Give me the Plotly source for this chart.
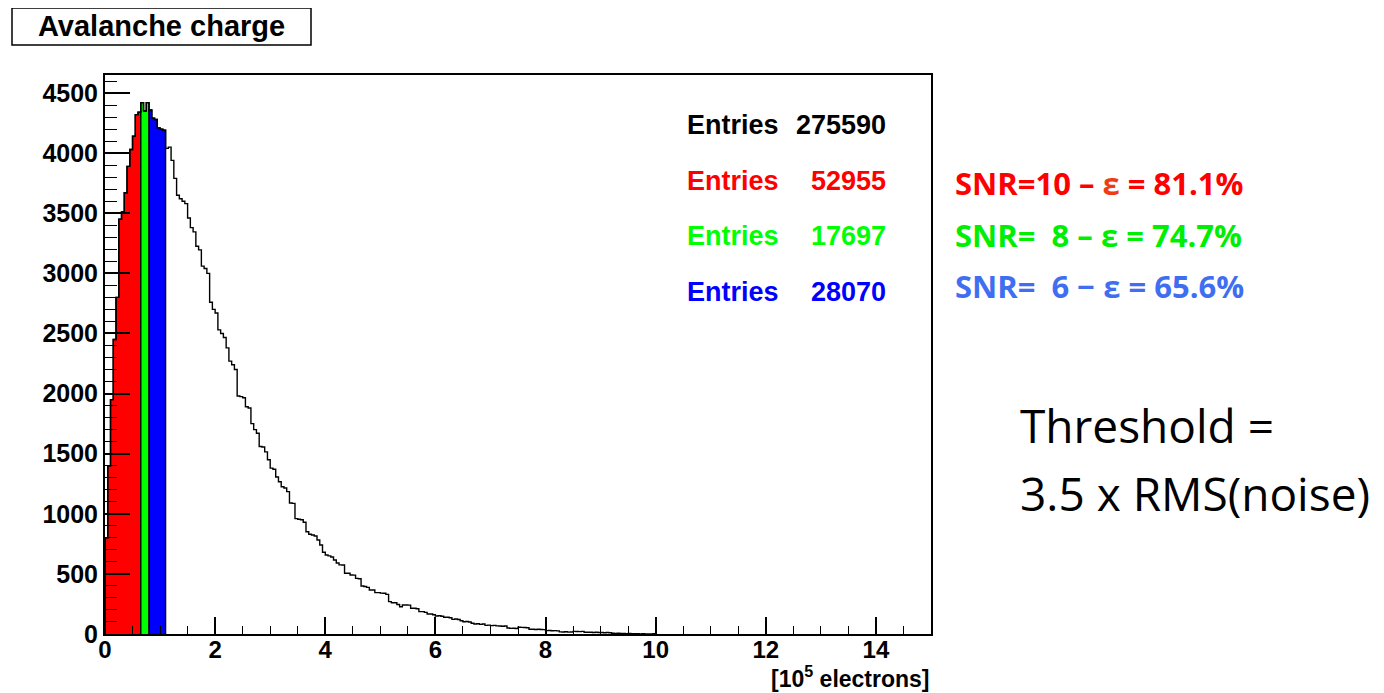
import plotly.graph_objects as go

# ---------------- data ----------------
bin_width = 0.05          # [10^5 electrons]
x_start = 0.0
counts = [
    800, 1400, 1950, 2450, 2800, 3450, 3510, 3670, 3890, 4030, 4140, 4320, 4340, 4420, 4350, 4420, 4360, 4290, 4280, 4210,
    4200, 4190, 4040, 4050, 3940, 3790, 3650, 3620, 3600, 3580, 3460, 3380, 3345, 3225, 3195, 3060, 3040, 3000, 2760, 2700,
    2670, 2530, 2500, 2467, 2380, 2270, 2240, 2200, 1980, 1975, 1965, 1890, 1880, 1750, 1700, 1670, 1560, 1555, 1515, 1450,
    1380, 1370, 1306, 1267, 1225, 1215, 1184, 1090, 1087, 960, 955, 950, 930, 850, 830, 824, 815, 782, 740, 680,
    657, 650, 640, 616, 591, 575, 574, 505, 505, 491, 490, 463, 460, 399, 395, 388, 366, 366, 344, 344,
    340, 339, 330, 269, 260, 260, 245, 227, 241, 241, 240, 214, 214, 210, 186, 186, 180, 166, 166, 160,
    150, 152, 148, 139, 139, 135, 122, 125, 120, 110, 102, 104, 100, 90, 83, 85, 80, 83, 72, 74,
    70, 72, 68, 67, 65, 67, 50, 47, 48, 46, 56, 55, 54, 52, 40, 39, 38, 40, 37, 36,
    28, 29, 27, 28, 26, 18, 17, 19, 16, 17, 22, 21, 20, 22, 15, 14, 14, 13, 14, 12,
    13, 11, 12, 10, 6, 5, 6, 4, 5, 3, 4, 3, 2, 3, 0, 2, 1, 0, 1, 2,
]
cut_edges = [0.0, 0.65, 0.80, 1.10]
cut_colors = ["#ff0000", "#00ff00", "#0000ff"]
entries_total = 275590
entries_cuts = [52955, 17697, 28070]
snr_values = ["10", "\u00a0\u00a08", "\u00a0\u00a06"]
snr_dashes = ["\u2013", "\u2013", "\u2212"]
efficiencies = ["81.1%", "74.7%", "65.6%"]
snr_colors = ["#ff0000", "#00ee00", "#3f6ff0"]
eps_colors = ["#f03c14", "#00ee00", "#3f6ff0"]

# ---------------- geometry helpers (page pixels) ----------------
OFF = 8                      # default body margin of the html page
W, H = 1384 - OFF, 693 - OFF
L, R, T, B = 105, 931, 75, 634   # plot-area edges in page pixels
X_RANGE = [0, 15]
Y_RANGE = [0, 4650]


def px(xp):
    return (xp - L) / (R - L)


def py(yp):
    return (B - yp) / (B - T)


n = len(counts)
edges = [x_start + i * bin_width for i in range(n + 1)]


def step_xy(lo, hi):
    xs = [edges[lo]] + edges[lo:hi + 1] + [edges[hi]]
    ys = [0] + counts[lo:hi] + [counts[hi - 1]] + [0]
    return xs, ys


fig = go.Figure()

# coloured (below-threshold) parts
for k in range(len(cut_colors)):
    lo = round(cut_edges[k] / bin_width)
    hi = round(cut_edges[k + 1] / bin_width)
    xs, ys = step_xy(lo, hi)
    fig.add_trace(go.Scatter(
        x=xs, y=ys, mode="lines", line_shape="hv",
        line=dict(color="black", width=1.4),
        fill="tozeroy", fillcolor=cut_colors[k],
        hoverinfo="skip", showlegend=False))

# full histogram outline
xs, ys = step_xy(0, n)
fig.add_trace(go.Scatter(
    x=xs, y=ys, mode="lines", line_shape="hv",
    line=dict(color="black", width=1.4),
    hoverinfo="skip", showlegend=False))

helv = "Liberation Sans"

fig.update_layout(
    width=W, height=H,
    margin=dict(l=L - OFF, r=W - (R - OFF), t=T - OFF, b=H - (B - OFF), pad=0),
    paper_bgcolor="white", plot_bgcolor="white",
    xaxis=dict(range=X_RANGE, showgrid=False, zeroline=False,
               showline=True, linecolor="black", linewidth=2, mirror=True,
               ticks="inside", ticklen=17, tickwidth=1.5, tickcolor="black",
               tick0=0, dtick=2, ticklabelstandoff=-7,
               minor=dict(ticks="inside", ticklen=8, tickwidth=1.2, tickcolor="black", dtick=0.5),
               tickfont=dict(family=helv, size=24, color="black", weight="bold")),
    yaxis=dict(range=Y_RANGE, showgrid=False, zeroline=False,
               showline=True, linecolor="black", linewidth=2, mirror=True,
               ticks="inside", ticklen=25, tickwidth=1.5, tickcolor="black",
               tick0=0, dtick=500,
               minor=dict(ticks="inside", ticklen=12, tickwidth=1.2, tickcolor="black", dtick=100),
               tickfont=dict(family=helv, size=25, color="black", weight="bold")),
)

ann = []
# x axis title
ann.append(dict(xref="paper", yref="paper", x=px(931), y=py(693), xanchor="right", yanchor="bottom",
                text="[10<sup>5</sup> electrons]", showarrow=False, borderpad=0,
                font=dict(family=helv, size=23, color="black", weight="bold")))
# title box
fig.add_shape(type="rect", xref="paper", yref="paper",
              x0=px(12), x1=px(311), y0=py(45), y1=py(8),
              line=dict(color="black", width=1.5), fillcolor="white")
ann.append(dict(xref="paper", yref="paper", x=px(161), y=py(26), xanchor="center", yanchor="middle",
                text="Avalanche charge", showarrow=False,
                font=dict(family=helv, size=29, color="black", weight="bold")))

# stats entries
rows_y = [125, 181, 236, 292]
row_cols = ["black"] + cut_colors
row_vals = [entries_total] + entries_cuts
for yv, c, v in zip(rows_y, row_cols, row_vals):
    ann.append(dict(xref="paper", yref="paper", x=px(685), y=py(yv), xanchor="left", yanchor="middle",
                    text="Entries", showarrow=False,
                    font=dict(family=helv, size=27, color=c, weight="bold")))
    ann.append(dict(xref="paper", yref="paper", x=px(888), y=py(yv), xanchor="right", yanchor="middle",
                    text=str(v), showarrow=False,
                    font=dict(family=helv, size=27, color=c, weight="bold")))

# SNR / efficiency labels
snr_y = [183, 235, 286]
for yv, s, d, e, c, ec in zip(snr_y, snr_values, snr_dashes, efficiencies, snr_colors, eps_colors):
    txt = f"SNR={s} {d} <span style='color:{ec}'>\u03b5</span> = {e}"
    ann.append(dict(xref="paper", yref="paper", x=px(953), y=py(yv), xanchor="left", yanchor="middle",
                    text=txt, showarrow=False,
                    font=dict(family="Open Sans", size=31, color=c, weight="bold")))

# threshold text
ann.append(dict(xref="paper", yref="paper", x=px(1018), y=py(425), xanchor="left", yanchor="middle",
                text="Threshold =", showarrow=False,
                font=dict(family="Open Sans", size=46, color="black")))
ann.append(dict(xref="paper", yref="paper", x=px(1018), y=py(493), xanchor="left", yanchor="middle",
                text="3.5 x RMS(noise)", showarrow=False,
                font=dict(family="Open Sans", size=46, color="black")))

fig.update_layout(annotations=ann)
fig.write_html("out.html")
